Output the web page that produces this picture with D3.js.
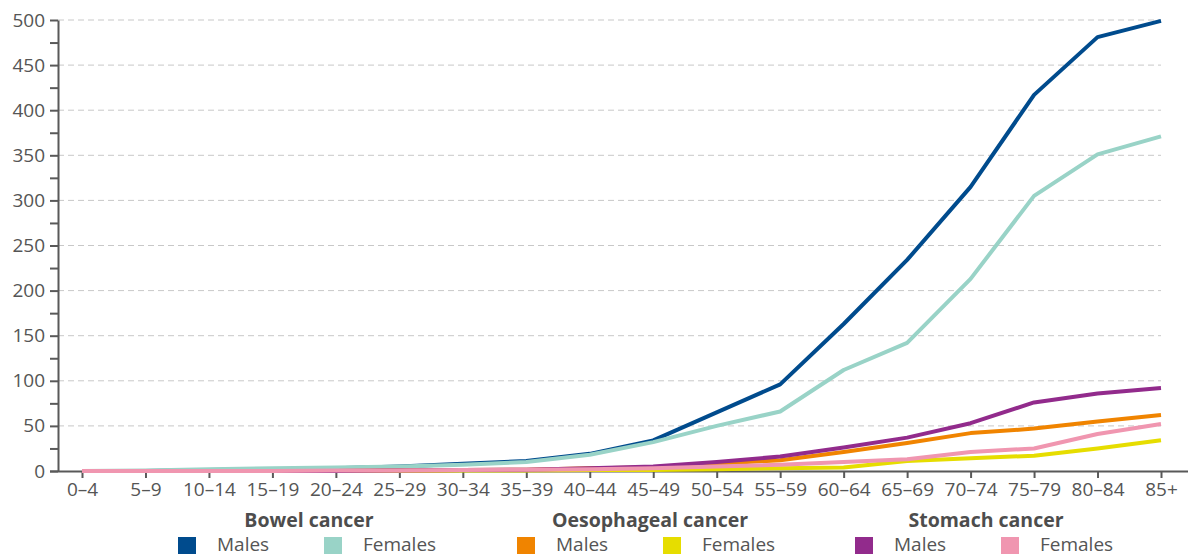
<!DOCTYPE html>
<html><head><meta charset="utf-8">
<script src="https://cdn.jsdelivr.net/npm/d3@7"></script>
<style>
body{margin:0;background:#fff;}
text{font-family:"Open Sans",sans-serif;}
</style></head>
<body><svg id="c" width="1188" height="557"></svg>
<script>
const ageGroups = ["0–4","5–9","10–14","15–19","20–24","25–29","30–34","35–39","40–44","45–49","50–54","55–59","60–64","65–69","70–74","75–79","80–84","85+"];
const bowelMales      = [0,0,1,2,3,5,8,11,19,34,65,96,163,234,315,417,481,499];
const bowelFemales    = [0,0.5,2,3,4,5,7,10,18,32,50,66,112,142,213,305,351,371];
const oesophMales     = [0,0,0,0,0,0.5,1,1.5,3,4,8,12,21,31,42,47,55,62];
const oesophFemales   = [0,0,0,0,0,0,0.5,0.5,1,1,2,3,4,11,14,17,25,34];
const stomachMales    = [0,0,0,0,0,0.5,1,1.5,3,5,10,16,26,37,53,76,86,92];
const stomachFemales  = [0,0,0,0,0.5,0.5,1,1.5,2,3,5,7,10,13,21,25,41,52];
const yTicks = [0,50,100,150,200,250,300,350,400,450,500];
const groups = ["Bowel cancer","Oesophageal cancer","Stomach cancer"];
const seriesNames = ["Males","Females"];

const series = [
  {g:0,name:"Males",values:bowelMales,color:"#004b8d"},
  {g:0,name:"Females",values:bowelFemales,color:"#99d3c7"},
  {g:1,name:"Males",values:oesophMales,color:"#f08400"},
  {g:1,name:"Females",values:oesophFemales,color:"#e6dd00"},
  {g:2,name:"Males",values:stomachMales,color:"#922b8c"},
  {g:2,name:"Females",values:stomachFemales,color:"#f096b0"}
];

const svg = d3.select("#c");
const x = d3.scalePoint().domain(ageGroups).range([82,1161]);
const y = d3.scaleLinear().domain([0,500]).range([471,20]);
const axisColor = "#595959", textColor = "#555";

// grid
svg.append("g").selectAll("line").data(yTicks.filter(d=>d>0)).join("line")
  .attr("x1",58).attr("x2",1161).attr("y1",d=>y(d)).attr("y2",d=>y(d))
  .attr("stroke","#c8c8c8").attr("stroke-width",1).attr("stroke-dasharray","6,4");

// y axis
const yAxis = svg.append("g").attr("transform","translate(58,0)")
  .call(d3.axisLeft(y).tickValues(d3.range(0,501,25)).tickSize(8).tickSizeOuter(0)
    .tickFormat(d=> d%50===0 ? d : ""));
yAxis.select(".domain").attr("stroke",axisColor).attr("stroke-width",2);
yAxis.selectAll(".tick line").attr("stroke",axisColor).attr("stroke-width",2);
yAxis.selectAll(".tick text").attr("fill",textColor).attr("font-size",19)
  .attr("font-family","'Open Sans',sans-serif").attr("x",-13);

// x axis
const xAxis = svg.append("g").attr("transform","translate(0,471)")
  .call(d3.axisBottom(x).tickSize(7).tickSizeOuter(0));
xAxis.select(".domain").attr("d","M50,0.5H1188").attr("stroke",axisColor).attr("stroke-width",2);
xAxis.selectAll(".tick line").attr("stroke",axisColor).attr("stroke-width",2);
xAxis.selectAll(".tick text").attr("fill",textColor).attr("font-size",19)
  .attr("font-family","'Open Sans',sans-serif").attr("y",12);

// lines
const line = d3.line().x((d,i)=>x(ageGroups[i])).y(d=>y(d));
svg.append("g").selectAll("path").data(series).join("path")
  .attr("d",d=>line(d.values)).attr("fill","none")
  .attr("stroke",d=>d.color).attr("stroke-width",4).attr("stroke-linejoin","round");

// legend
const groupCenters = [309,650,986];
const itemX = [[178,324],[517,663],[855,1001]];
const lg = svg.append("g");
groups.forEach((g,gi)=>{
  lg.append("text").attr("x",groupCenters[gi]).attr("y",527).attr("text-anchor","middle")
    .attr("font-size",19.5).attr("font-weight","bold").attr("fill","#4d4d4d").text(g);
  seriesNames.forEach((n,ni)=>{
    const s = series[gi*2+ni];
    lg.append("rect").attr("x",itemX[gi][ni]).attr("y",537).attr("width",18).attr("height",17).attr("fill",s.color);
    lg.append("text").attr("x",itemX[gi][ni]+39).attr("y",551).attr("font-size",19)
      .attr("fill",textColor).text(n);
  });
});
</script></body></html>
